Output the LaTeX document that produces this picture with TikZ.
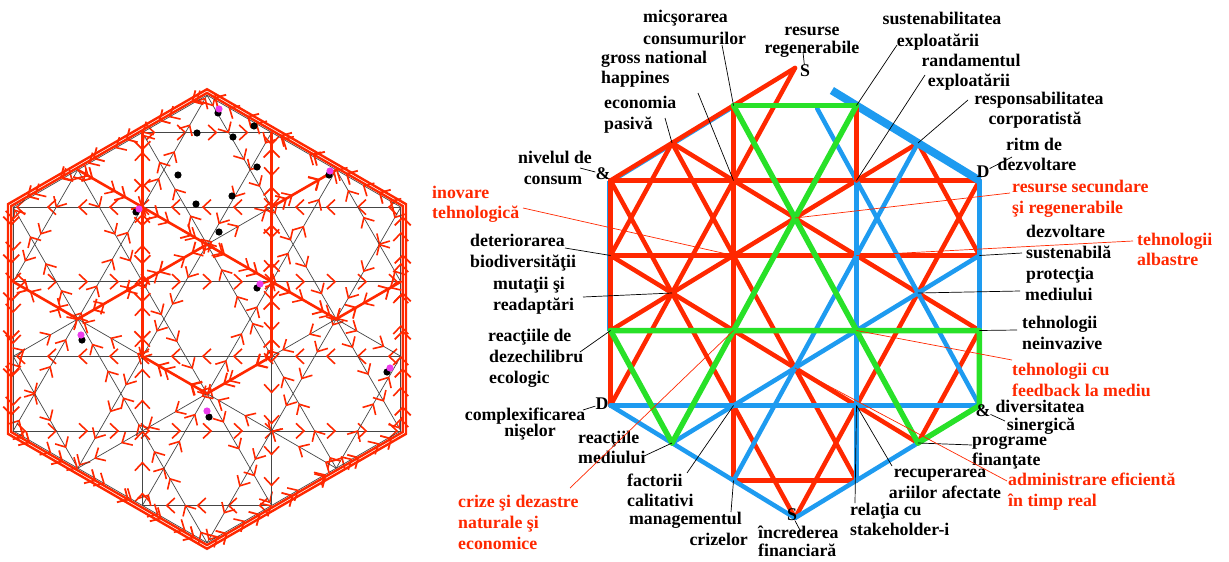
\documentclass[tikz,border=0pt]{standalone}
\usepackage{fontspec}
\setmainfont{Liberation Serif}
\usetikzlibrary{arrows.meta,decorations.markings,calc}
\definecolor{rd}{RGB}{255,40,0}
\definecolor{bl}{RGB}{30,155,240}
\definecolor{gr}{RGB}{40,225,40}
\definecolor{mg}{RGB}{235,60,235}
\definecolor{lk}{RGB}{70,70,70}
\newcommand{\mklattice}[1]{%
  \coordinate (#1T) at (0,3);
  \coordinate (#1A1) at (-0.866,2.5);
  \coordinate (#1A2) at (0.866,2.5);
  \coordinate (#1B1) at (-1.732,2);
  \coordinate (#1B2) at (1.732,2);
  \coordinate (#1C1) at (-2.598,1.5);
  \coordinate (#1C2) at (-0.866,1.5);
  \coordinate (#1C3) at (0.866,1.5);
  \coordinate (#1C4) at (2.598,1.5);
  \coordinate (#1D) at (0,1);
  \coordinate (#1E1) at (-2.598,0.5);
  \coordinate (#1E2) at (-0.866,0.5);
  \coordinate (#1E3) at (0.866,0.5);
  \coordinate (#1E4) at (2.598,0.5);
  \coordinate (#1F1) at (-1.732,0);
  \coordinate (#1F2) at (1.732,0);
  \coordinate (#1G1) at (-2.598,-0.5);
  \coordinate (#1G2) at (-0.866,-0.5);
  \coordinate (#1G3) at (0.866,-0.5);
  \coordinate (#1G4) at (2.598,-0.5);
  \coordinate (#1H) at (0,-1);
  \coordinate (#1I1) at (-2.598,-1.5);
  \coordinate (#1I2) at (-0.866,-1.5);
  \coordinate (#1I3) at (0.866,-1.5);
  \coordinate (#1I4) at (2.598,-1.5);
  \coordinate (#1J1) at (-1.732,-2);
  \coordinate (#1J2) at (1.732,-2);
  \coordinate (#1K1) at (-0.866,-2.5);
  \coordinate (#1K2) at (0.866,-2.5);
  \coordinate (#1Z) at (0,-3);
}
\begin{document}
\begin{tikzpicture}[x=1pt,y=-1pt,
  lab/.style={font=\bfseries\fontsize{17.8}{21}\selectfont, inner sep=0pt, text=black},
  rlab/.style={lab, text=rd},
  ldr/.style={draw=black, line width=0.7pt},
  rldr/.style={draw=rd, line width=0.7pt},
  lat/.style={draw=lk, line width=0.7pt},
  chv/.style={postaction={decorate,decoration={markings,
     mark=between positions 13pt and 1 step 31pt with {\arrow{Straight Barb[length=8pt,width=15pt,line width=1.6pt,color=rd]}}}}},
  chvL/.style={postaction={decorate,decoration={markings,
     mark=between positions 18pt and 1 step 38pt with {\arrow{Straight Barb[length=8pt,width=16pt,line width=1.8pt,color=rd]}}}}},
  thr/.style={draw=rd, line width=2.6pt, line cap=round},
  rline/.style={draw=rd, line width=4.5pt, line cap=round},
  bline/.style={draw=bl, line width=4.5pt, line cap=round},
  gline/.style={draw=gr, line width=5.5pt, line cap=round, line join=round},
  bdot/.style={fill=black, draw=none},
  mdot/.style={fill=mg, draw=none}
]
\useasboundingbox (0,0) rectangle (1229,562);
\fill[white] (0,0) rectangle (1229,562);

% ================= LEFT DIAGRAM =================
\begin{scope}[shift={(207,319)}, x=74.6pt, y=74.6pt]
  \mklattice{l}
  \foreach \p/\q in {lA1/lA2, lC4/lC1, lE1/lE4, lG4/lG1, lI1/lI4, lK2/lK1,
                     lJ2/lG4, lC4/lZ, lK1/lB2, lA2/lJ1, lI1/lT, lB1/lE1,
                     lG1/lJ1, lZ/lC1, lB1/lK2, lJ2/lA1, lT/lI4, lE4/lB2,
                     lC1/lI1, lK1/lA1, lA2/lK2, lI4/lC4,
                     lT/lC1, lG1/lB2, lE4/lJ1, lZ/lI4, lC4/lT, lB1/lG4, lJ2/lE1, lI1/lZ}
    \draw[lat, chv] (\p) -- (\q);
  % outer double red outline
  \draw[thr, line width=2.4pt, chvL] (0,3.03) -- (-2.624,1.515) -- (-2.624,-1.515) -- (0,-3.03) -- (2.624,-1.515) -- (2.624,1.515) -- cycle;
  \draw[thr, line width=2.4pt] (0,3.08) -- (-2.667,1.54) -- (-2.667,-1.54) -- (0,-3.08) -- (2.667,-1.54) -- (2.667,1.54) -- cycle;
  % thick red paths
  \draw[thr, chvL] (lB1) -- (lC2) -- (lD) -- (lE3) -- (lF2) -- (lE4);
  \draw[thr, chvL] (lD) -- (lE2) -- (lF1);
  \draw[thr, chvL] (lE1) -- (lF1);
  \draw[thr, chvL] (lA1) -- (lG2);
  \draw[thr, chvL] (lG3) -- (lA2);
  \draw[thr, chvL] (lC3) -- (lB2);
  \draw[thr, chvL] (lG3) -- (lH) -- (lG2);
\end{scope}
% dots
\foreach \x/\y in {197/133, 233/137, 254/126, 178/175, 257/167, 232/196, 196/204, 219/232,
                   218/113, 136/212, 329/175, 257/288, 82/340, 387/372, 209/417}
  \fill[bdot] (\x,\y) circle (3.6pt);
\foreach \x/\y in {219/109, 139/209, 330/171, 260/284, 81/335, 390/368, 207/411}
  \fill[mdot] (\x,\y) circle (3.6pt);

% ================= RIGHT DIAGRAM =================
\begin{scope}[shift={(795,293)}, x=71pt, y=75pt]
  \mklattice{r}
  \coordinate (rTs1) at ($(rT)!0.2!(rC4)$);
  \coordinate (rTs2) at ($(rT)!0.12!(rI4)$);
\end{scope}
% thin blue shadows
\draw[bl, line width=1.2pt, transform canvas={yshift=-3pt}] (rC1) -- (rA1);
\draw[bl, line width=1.2pt, transform canvas={xshift=-3pt}] (rC1) -- (rG1);
% red
\foreach \p/\q in {rC1/rC4, rE1/rE4, rK1/rK2, rJ2/rG4, rZ/rC4, rI1/rT, rE1/rB1,
                   rC1/rZ, rB1/rK2, rB2/rE4, rC1/rI1, rA1/rK1, rC1/rT, rG1/rB2,
                   rB1/rG4, rE1/rJ2}
  \draw[rline] (\p) -- (\q);
% blue
\foreach \p/\q in {rI1/rI4, rK1/rB2, rTs2/rI4, rA2/rK2, rC4/rI4, rJ1/rE4, rZ/rI4, rI1/rZ}
  \draw[bline] (\p) -- (\q);
\draw[bl, line width=8pt] (rTs1) -- (rC4);
\draw[rline] (rA2) -- (rC3);
% green
\draw[gline] (rA1) -- (rA2);
\draw[gline] (rG1) -- (rG4) -- (rI4) -- (rJ2);
\draw[gline] (rJ1) -- (rA2);
\draw[gline] (rG1) -- (rJ1);
\draw[gline] (rA1) -- (rJ2);

% corner letters
\node[lab] (s1) at (805,71) {S};
\node[lab] (s2) at (792,515) {S};
\node[lab] (amp1) at (603,174) {\&};
\node[lab] (amp2) at (983,411) {\&};
\node[lab] (d1) at (983,172) {D};
\node[lab] (d2) at (602,404) {D};

% labels
\node[lab, anchor=base west] (t1) at (643,23) {micşorarea};
\node[lab, anchor=base west] (t2) at (643,44) {consumurilor};
\node[lab, anchor=base west] (t3) at (601,63) {gross national};
\node[lab, anchor=base west] (t4) at (601,83) {happines};
\node[lab, anchor=base west] (t5) at (604,108) {economia};
\node[lab, anchor=base west] (t6) at (604,129) {pasivă};
\node[lab, anchor=base] (t7) at (555,163) {nivelul de};
\node[lab, anchor=base] (t8) at (553,184) {consum};
\node[lab, anchor=base] (t9) at (812,35) {resurse};
\node[lab, anchor=base] (t10) at (812,53) {regenerabile};
\node[lab, anchor=base] (t11) at (942,24) {sustenabilitatea};
\node[lab, anchor=base] (t12) at (938,46) {exploatării};
\node[lab, anchor=base] (t13) at (971,66) {randamentul};
\node[lab, anchor=base] (t14) at (969,86) {exploatării};
\node[lab, anchor=base] (t15) at (1039,104) {responsabilitatea};
\node[lab, anchor=base] (t16) at (1035,124) {corporatistă};
\node[lab, anchor=base] (t17) at (1034,150) {ritm de};
\node[lab, anchor=base] (t18) at (1037,170) {dezvoltare};
\node[rlab, anchor=base west] (t19) at (1012,192) {resurse secundare};
\node[rlab, anchor=base west] (t20) at (1012,213) {şi regenerabile};
\node[lab, anchor=base west] (t21) at (1026,237) {dezvoltare};
\node[lab, anchor=base west] (t22) at (1026,258) {sustenabilă};
\node[lab, anchor=base west] (t23) at (1026,279) {protecţia};
\node[lab, anchor=base west] (t24) at (1025,300) {mediului};
\node[rlab, anchor=base west] (t25) at (1137,245) {tehnologii};
\node[rlab, anchor=base west] (t26) at (1137,265) {albastre};
\node[lab, anchor=base west] (t27) at (1022,328) {tehnologii};
\node[lab, anchor=base west] (t28) at (1022,349) {neinvazive};
\node[rlab, anchor=base west] (t29) at (1012,375) {tehnologii cu};
\node[rlab, anchor=base west] (t30) at (1012,396) {feedback la mediu};
\node[lab, anchor=base] (t31) at (1040,412) {diversitatea};
\node[lab, anchor=base] (t32) at (1041,430) {sinergică};
\node[lab, anchor=base west] (t33) at (972,445) {programe};
\node[lab, anchor=base west] (t34) at (972,465) {finanţate};
\node[lab, anchor=base] (t35) at (940,477) {recuperarea};
\node[lab, anchor=base] (t36) at (945,498) {ariilor afectate};
\node[rlab, anchor=base west] (t37) at (1008,485) {administrare eficientă};
\node[rlab, anchor=base west] (t38) at (1008,506) {în timp real};
\node[lab, anchor=base west] (t39) at (850,515) {relaţia cu};
\node[lab, anchor=base west] (t40) at (850,535) {stakeholder-i};
\node[lab, anchor=base west] (t41) at (758,538) {încrederea};
\node[lab, anchor=base west] (t42) at (758,556) {financiară};
\node[lab, anchor=base west] (t43) at (627,486) {factorii};
\node[lab, anchor=base west] (t44) at (627,506) {calitativi};
\node[lab, anchor=base east] (t45) at (742,524) {managementul};
\node[lab, anchor=base east] (t46) at (748,545) {crizelor};
\node[lab, anchor=base west] (t47) at (578,443) {reacţiile};
\node[lab, anchor=base west] (t48) at (578,463) {mediului};
\node[rlab, anchor=base west] (t49) at (458,507) {crize şi dezastre};
\node[rlab, anchor=base west] (t50) at (458,528) {naturale şi};
\node[rlab, anchor=base west] (t51) at (458,549) {economice};
\node[lab, anchor=base] (t52) at (525,420) {complexificarea};
\node[lab, anchor=base] (t53) at (530,436) {nişelor};
\node[lab, anchor=base west] (t54) at (488,341) {reacţiile de};
\node[lab, anchor=base west] (t55) at (489,362) {dezechilibru};
\node[lab, anchor=base west] (t56) at (489,383) {ecologic};
\node[lab, anchor=base west] (t57) at (493,289) {mutaţii şi};
\node[lab, anchor=base west] (t58) at (493,310) {readaptări};
\node[lab, anchor=base west] (t59) at (470,246) {deteriorarea};
\node[lab, anchor=base west] (t60) at (470,267) {biodiversităţii};
\node[rlab, anchor=base west] (t61) at (432,198) {inovare};
\node[rlab, anchor=base west] (t62) at (432,218) {tehnologică};

% leader lines
\coordinate (q1) at (722,45);   \draw[ldr] (q1) -- (rA1);
\coordinate (q2) at (698,93);   \draw[ldr] (q2) -- (rC2);
\coordinate (q3) at (665,118);  \draw[ldr] (q3) -- (rB1);
\coordinate (q4) at (580,168);  \draw[ldr] (q4) -- (amp1);
\coordinate (q5) at (803,52);   \draw[ldr] (q5) -- (s1);
\coordinate (q6) at (897,45);   \draw[ldr] (q6) -- (rA2);
\coordinate (q7) at (925,75);   \draw[ldr] (q7) -- (rC3);
\coordinate (q8) at (968,100);  \draw[ldr] (q8) -- (rB2);
\coordinate (q9) at (1012,157); \draw[ldr] (q9) -- (d1);
\coordinate (q10) at (1010,193);\draw[rldr] (q10) -- (rD);
\coordinate (q11) at (1022,253);\draw[ldr] (q11) -- (rE4);
\coordinate (q12) at (1133,241);\draw[rldr] (q12) -- (rE3);
\coordinate (q13) at (1020,291);\draw[ldr] (q13) -- (rF2);
\coordinate (q14) at (1017,330);\draw[ldr] (q14) -- (rG4);
\coordinate (q15) at (1012,360);\draw[rldr] (q15) -- (rG3);
\coordinate (q16) at (1005,421);\draw[ldr] (amp2) -- (q16);
\coordinate (q17) at (972,445); \draw[ldr] (rJ2) -- (q17);
\coordinate (q18) at (892,466); \draw[ldr] (rI3) -- (q18);
\coordinate (q19) at (855,503); \draw[ldr] (rI3) -- (q19);
\coordinate (q20) at (1007,481);\draw[rldr] (rH) -- (q20);
\coordinate (q21) at (687,473); \draw[ldr] (rI2) -- (q21);
\coordinate (q22) at (731,512); \draw[ldr] (rK1) -- (q22);
\coordinate (q23) at (801,532); \draw[ldr] (s2) -- (q23);
\coordinate (q24) at (642,457); \draw[ldr] (rJ1) -- (q24);
\coordinate (q25) at (570,488); \draw[rldr] (rG2) -- (q25);
\coordinate (q26) at (580,352); \draw[ldr] (rG1) -- (q26);
\coordinate (q27) at (583,297); \draw[ldr] (rF1) -- (q27);
\coordinate (q28) at (565,248); \draw[ldr] (rE1) -- (q28);
\coordinate (q29) at (523,208); \draw[rldr] (rE2) -- (q29);
\coordinate (q30) at (583,410); \draw[ldr] (d2) -- (q30);
\end{tikzpicture}
\end{document}
